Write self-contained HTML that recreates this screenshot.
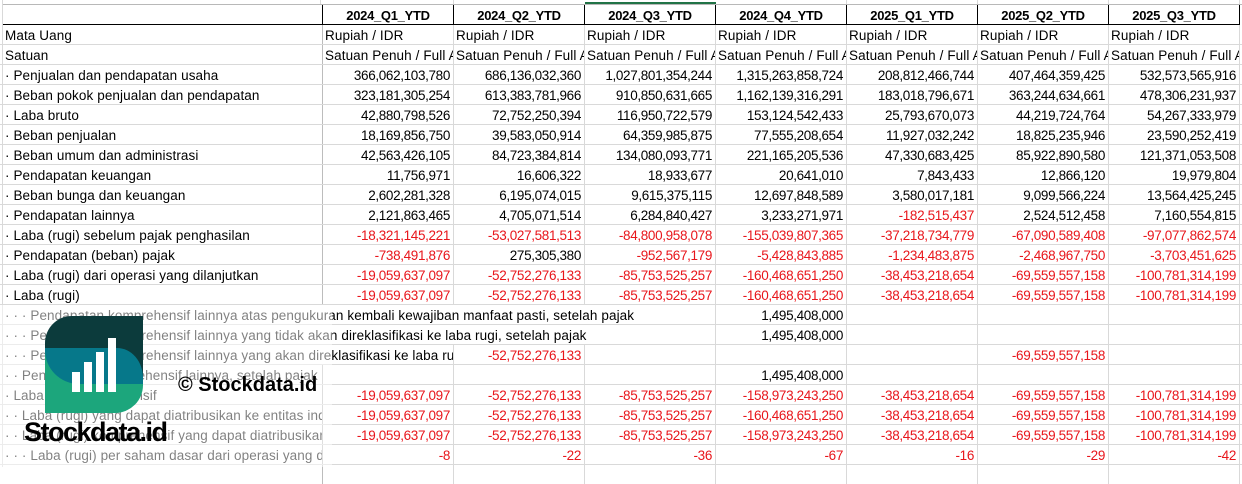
<!DOCTYPE html>
<html>
<head>
<meta charset="utf-8">
<style>
  html,body{margin:0;padding:0}
  body{width:1242px;height:467px;overflow:hidden;background:#fff;position:relative;
       font-family:"Liberation Sans",Arial,sans-serif;font-size:13.5px;color:#000}
  .r{position:absolute;left:0;width:1242px;height:19px}
  .k{position:absolute;top:0;height:19px;box-sizing:border-box;border-right:1px solid #d9d9d9;
     white-space:nowrap;overflow:hidden;line-height:20px;padding:1px 3px 0 2px;letter-spacing:0.1px}
  .a{left:3px;width:320px;border-right-color:#bcbcbc}
  .b{left:323px;width:131px}
  .c{left:454px;width:131px}
  .d{left:585px;width:131px}
  .e{left:716px;width:131px}
  .f{left:847px;width:131px}
  .g{left:978px;width:131px}
  .h{left:1109px;width:131px}
  .n{text-align:right;letter-spacing:-0.35px}
  .red{color:#e8151b}
  .hd .k{border-right-color:#000;font-weight:bold;font-size:13px;text-align:center;letter-spacing:-0.3px;padding:1px 0 0 0}
  .hl{position:absolute;left:0;width:1242px;height:1px;background:#d9d9d9}
  .vl{position:absolute;width:1px;background:#d9d9d9}
  .ov{position:absolute;left:0;top:305px;width:332px;height:162px;background:rgba(255,255,255,0.5)}
</style>
</head>
<body>

<!-- top strip above header -->
<div class="vl" style="left:2px;top:0;height:467px"></div>
<div class="vl" style="left:320px;top:0;height:4px"></div>
<div class="vl" style="left:453px;top:0;height:4px"></div>
<div class="vl" style="left:846px;top:0;height:4px"></div>
<div class="vl" style="left:977px;top:0;height:4px"></div>
<div class="vl" style="left:1108px;top:0;height:4px"></div>
<div class="vl" style="left:1239px;top:0;height:4px"></div>
<div style="position:absolute;left:585px;top:2px;width:131px;height:2px;background:#217346"></div>
<div style="position:absolute;left:3px;top:4px;width:1239px;height:1px;background:#b8b8b8"></div>

<!-- header row -->
<div class="r hd" style="top:5px">
  <div class="k a"></div>
  <div class="k b">2024_Q1_YTD</div>
  <div class="k c">2024_Q2_YTD</div>
  <div class="k d">2024_Q3_YTD</div>
  <div class="k e">2024_Q4_YTD</div>
  <div class="k f">2025_Q1_YTD</div>
  <div class="k g">2025_Q2_YTD</div>
  <div class="k h">2025_Q3_YTD</div>
</div>
<div style="position:absolute;left:3px;top:24px;width:1237px;height:1px;background:#000"></div>

<!-- horizontal gridlines -->
<div class="hl" style="top:44px"></div><div class="hl" style="top:64px"></div>
<div class="hl" style="top:84px"></div><div class="hl" style="top:104px"></div>
<div class="hl" style="top:124px"></div><div class="hl" style="top:144px"></div>
<div class="hl" style="top:164px"></div><div class="hl" style="top:184px"></div>
<div class="hl" style="top:204px"></div><div class="hl" style="top:224px"></div>
<div class="hl" style="top:244px"></div><div class="hl" style="top:264px"></div>
<div class="hl" style="top:284px"></div><div class="hl" style="top:304px"></div>
<div class="hl" style="top:324px"></div><div class="hl" style="top:344px"></div>
<div class="hl" style="top:364px"></div><div class="hl" style="top:384px"></div>
<div class="hl" style="top:404px"></div><div class="hl" style="top:424px"></div>
<div class="hl" style="top:444px"></div><div class="hl" style="top:464px"></div>

<!-- Mata Uang -->
<div class="r" style="top:25px">
  <div class="k a">Mata Uang</div>
  <div class="k b">Rupiah / IDR</div><div class="k c">Rupiah / IDR</div><div class="k d">Rupiah / IDR</div>
  <div class="k e">Rupiah / IDR</div><div class="k f">Rupiah / IDR</div><div class="k g">Rupiah / IDR</div>
  <div class="k h">Rupiah / IDR</div>
</div>
<!-- Satuan -->
<div class="r" style="top:45px">
  <div class="k a">Satuan</div>
  <div class="k b">Satuan Penuh / Full Amount</div><div class="k c">Satuan Penuh / Full Amount</div>
  <div class="k d">Satuan Penuh / Full Amount</div><div class="k e">Satuan Penuh / Full Amount</div>
  <div class="k f">Satuan Penuh / Full Amount</div><div class="k g">Satuan Penuh / Full Amount</div>
  <div class="k h">Satuan Penuh / Full Amount</div>
</div>

<div class="r" style="top:65px">
  <div class="k a">· Penjualan dan pendapatan usaha</div>
  <div class="k b n">366,062,103,780</div><div class="k c n">686,136,032,360</div><div class="k d n">1,027,801,354,244</div>
  <div class="k e n">1,315,263,858,724</div><div class="k f n">208,812,466,744</div><div class="k g n">407,464,359,425</div>
  <div class="k h n">532,573,565,916</div>
</div>
<div class="r" style="top:85px">
  <div class="k a">· Beban pokok penjualan dan pendapatan</div>
  <div class="k b n">323,181,305,254</div><div class="k c n">613,383,781,966</div><div class="k d n">910,850,631,665</div>
  <div class="k e n">1,162,139,316,291</div><div class="k f n">183,018,796,671</div><div class="k g n">363,244,634,661</div>
  <div class="k h n">478,306,231,937</div>
</div>
<div class="r" style="top:105px">
  <div class="k a">· Laba bruto</div>
  <div class="k b n">42,880,798,526</div><div class="k c n">72,752,250,394</div><div class="k d n">116,950,722,579</div>
  <div class="k e n">153,124,542,433</div><div class="k f n">25,793,670,073</div><div class="k g n">44,219,724,764</div>
  <div class="k h n">54,267,333,979</div>
</div>
<div class="r" style="top:125px">
  <div class="k a">· Beban penjualan</div>
  <div class="k b n">18,169,856,750</div><div class="k c n">39,583,050,914</div><div class="k d n">64,359,985,875</div>
  <div class="k e n">77,555,208,654</div><div class="k f n">11,927,032,242</div><div class="k g n">18,825,235,946</div>
  <div class="k h n">23,590,252,419</div>
</div>
<div class="r" style="top:145px">
  <div class="k a">· Beban umum dan administrasi</div>
  <div class="k b n">42,563,426,105</div><div class="k c n">84,723,384,814</div><div class="k d n">134,080,093,771</div>
  <div class="k e n">221,165,205,536</div><div class="k f n">47,330,683,425</div><div class="k g n">85,922,890,580</div>
  <div class="k h n">121,371,053,508</div>
</div>
<div class="r" style="top:165px">
  <div class="k a">· Pendapatan keuangan</div>
  <div class="k b n">11,756,971</div><div class="k c n">16,606,322</div><div class="k d n">18,933,677</div>
  <div class="k e n">20,641,010</div><div class="k f n">7,843,433</div><div class="k g n">12,866,120</div>
  <div class="k h n">19,979,804</div>
</div>
<div class="r" style="top:185px">
  <div class="k a">· Beban bunga dan keuangan</div>
  <div class="k b n">2,602,281,328</div><div class="k c n">6,195,074,015</div><div class="k d n">9,615,375,115</div>
  <div class="k e n">12,697,848,589</div><div class="k f n">3,580,017,181</div><div class="k g n">9,099,566,224</div>
  <div class="k h n">13,564,425,245</div>
</div>
<div class="r" style="top:205px">
  <div class="k a">· Pendapatan lainnya</div>
  <div class="k b n">2,121,863,465</div><div class="k c n">4,705,071,514</div><div class="k d n">6,284,840,427</div>
  <div class="k e n">3,233,271,971</div><div class="k f n red">-182,515,437</div><div class="k g n">2,524,512,458</div>
  <div class="k h n">7,160,554,815</div>
</div>
<div class="r" style="top:225px">
  <div class="k a">· Laba (rugi) sebelum pajak penghasilan</div>
  <div class="k b n red">-18,321,145,221</div><div class="k c n red">-53,027,581,513</div><div class="k d n red">-84,800,958,078</div>
  <div class="k e n red">-155,039,807,365</div><div class="k f n red">-37,218,734,779</div><div class="k g n red">-67,090,589,408</div>
  <div class="k h n red">-97,077,862,574</div>
</div>
<div class="r" style="top:245px">
  <div class="k a">· Pendapatan (beban) pajak</div>
  <div class="k b n red">-738,491,876</div><div class="k c n">275,305,380</div><div class="k d n red">-952,567,179</div>
  <div class="k e n red">-5,428,843,885</div><div class="k f n red">-1,234,483,875</div><div class="k g n red">-2,468,967,750</div>
  <div class="k h n red">-3,703,451,625</div>
</div>
<div class="r" style="top:265px">
  <div class="k a">· Laba (rugi) dari operasi yang dilanjutkan</div>
  <div class="k b n red">-19,059,637,097</div><div class="k c n red">-52,752,276,133</div><div class="k d n red">-85,753,525,257</div>
  <div class="k e n red">-160,468,651,250</div><div class="k f n red">-38,453,218,654</div><div class="k g n red">-69,559,557,158</div>
  <div class="k h n red">-100,781,314,199</div>
</div>
<div class="r" style="top:285px">
  <div class="k a">· Laba (rugi)</div>
  <div class="k b n red">-19,059,637,097</div><div class="k c n red">-52,752,276,133</div><div class="k d n red">-85,753,525,257</div>
  <div class="k e n red">-160,468,651,250</div><div class="k f n red">-38,453,218,654</div><div class="k g n red">-69,559,557,158</div>
  <div class="k h n red">-100,781,314,199</div>
</div>
<div class="r" style="top:305px">
  <div class="k" style="left:3px;width:713px">· · · Pendapatan komprehensif lainnya atas pengukuran kembali kewajiban manfaat pasti, setelah pajak</div>
  <div class="k e n">1,495,408,000</div><div class="k f"></div><div class="k g"></div><div class="k h"></div>
</div>
<div class="r" style="top:325px">
  <div class="k" style="left:3px;width:713px">· · · Pendapatan komprehensif lainnya yang tidak akan direklasifikasi ke laba rugi, setelah pajak</div>
  <div class="k e n">1,495,408,000</div><div class="k f"></div><div class="k g"></div><div class="k h"></div>
</div>
<div class="r" style="top:345px">
  <div class="k" style="left:3px;width:451px">· · · Pendapatan komprehensif lainnya yang akan direklasifikasi ke laba rugi, setelah pajak</div>
  <div class="k c n red">-52,752,276,133</div><div class="k d"></div><div class="k e"></div><div class="k f"></div>
  <div class="k g n red">-69,559,557,158</div><div class="k h"></div>
</div>
<div class="r" style="top:365px">
  <div class="k a">· · Pendapatan komprehensif lainnya, setelah pajak</div>
  <div class="k b"></div><div class="k c"></div><div class="k d"></div>
  <div class="k e n">1,495,408,000</div><div class="k f"></div><div class="k g"></div><div class="k h"></div>
</div>
<div class="r" style="top:385px">
  <div class="k a">· Laba rugi komprehensif</div>
  <div class="k b n red">-19,059,637,097</div><div class="k c n red">-52,752,276,133</div><div class="k d n red">-85,753,525,257</div>
  <div class="k e n red">-158,973,243,250</div><div class="k f n red">-38,453,218,654</div><div class="k g n red">-69,559,557,158</div>
  <div class="k h n red">-100,781,314,199</div>
</div>
<div class="r" style="top:405px">
  <div class="k a">· · Laba (rugi) yang dapat diatribusikan ke entitas induk</div>
  <div class="k b n red">-19,059,637,097</div><div class="k c n red">-52,752,276,133</div><div class="k d n red">-85,753,525,257</div>
  <div class="k e n red">-160,468,651,250</div><div class="k f n red">-38,453,218,654</div><div class="k g n red">-69,559,557,158</div>
  <div class="k h n red">-100,781,314,199</div>
</div>
<div class="r" style="top:425px">
  <div class="k a">· · Laba (rugi) komprehensif yang dapat diatribusikan ke entitas induk</div>
  <div class="k b n red">-19,059,637,097</div><div class="k c n red">-52,752,276,133</div><div class="k d n red">-85,753,525,257</div>
  <div class="k e n red">-158,973,243,250</div><div class="k f n red">-38,453,218,654</div><div class="k g n red">-69,559,557,158</div>
  <div class="k h n red">-100,781,314,199</div>
</div>
<div class="r" style="top:445px">
  <div class="k a">· · · Laba (rugi) per saham dasar dari operasi yang dilanjutkan</div>
  <div class="k b n red">-8</div><div class="k c n red">-22</div><div class="k d n red">-36</div>
  <div class="k e n red">-67</div><div class="k f n red">-16</div><div class="k g n red">-29</div>
  <div class="k h n red">-42</div>
</div>
<div class="r" style="top:465px">
  <div class="k a"></div><div class="k b"></div><div class="k c"></div><div class="k d"></div>
  <div class="k e"></div><div class="k f"></div><div class="k g"></div><div class="k h"></div>
</div>

<!-- watermark wash -->
<div class="ov"></div>

<!-- logo -->
<div style="position:absolute;left:45px;top:316px;width:98px;height:97px;border-radius:27px 0 28px 0;overflow:hidden">
  <div style="position:absolute;left:0;top:0;width:98px;height:33px;background:#0c3b3c"></div>
  <div style="position:absolute;left:49px;top:0;width:49px;height:70px;background:#0c3b3c"></div>
  <div style="position:absolute;left:0;top:32px;width:49px;height:65px;background:#1ca67c"></div>
  <div style="position:absolute;left:0;top:66px;width:98px;height:31px;background:#1ca67c"></div>
  <div style="position:absolute;left:0;top:32px;width:98px;height:36px;background:#06788a;border-radius:0 26px 0 34px / 0 30px 0 34px"></div>
  <div style="position:absolute;left:27px;top:56px;width:8px;height:20px;background:#fff"></div>
  <div style="position:absolute;left:39px;top:46px;width:8px;height:30px;background:#fff"></div>
  <div style="position:absolute;left:51px;top:36px;width:8px;height:40px;background:#fff"></div>
  <div style="position:absolute;left:63px;top:22px;width:8px;height:54px;background:#fff"></div>
</div>

<div style="position:absolute;left:178px;top:375px;font-size:20px;line-height:20px;font-weight:bold;color:#000;white-space:nowrap">© Stockdata.id</div>
<div style="position:absolute;left:24px;top:417px;font-size:27px;line-height:30px;font-weight:bold;letter-spacing:-1.5px;color:#000;white-space:nowrap">Stockdata.id</div>

</body>
</html>
